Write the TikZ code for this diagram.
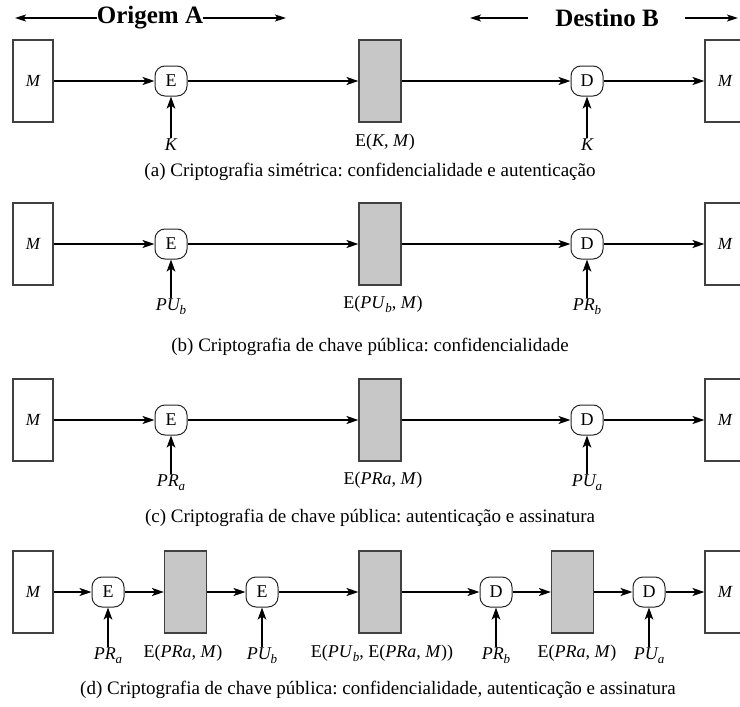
\documentclass[tikz,border=0pt]{standalone}
\usepackage{fontspec}
\setmainfont{Liberation Serif}
\usetikzlibrary{arrows.meta}

% italic subscript, set a little below the baseline
\newcommand{\sbi}[1]{\raisebox{-0.5ex}{\fontsize{13}{14}\selectfont\itshape #1}}

\tikzset{
  msgbox/.style={draw=black!75, line width=1.1pt, minimum width=40pt, minimum height=82pt,
                 inner sep=0pt, font=\fontsize{17}{19}\selectfont\itshape},
  cipher/.style={msgbox, fill=black!22, minimum width=42pt},
  op/.style={draw=black!85, line width=1pt, rounded corners=10pt, minimum width=32pt,
             minimum height=30pt, inner sep=0pt, fill=white, font=\fontsize{18}{20}\selectfont},
  lbl/.style={inner sep=1pt, font=\fontsize{18}{20}\selectfont},
  caption/.style={inner sep=0pt, font=\fontsize{19}{21}\selectfont},
  flow/.style={line width=1.8pt, -{Stealth[length=12pt,width=8pt,inset=3pt]}},
  keyflow/.style={line width=2.6pt, -{Stealth[length=12pt,width=8.5pt,inset=3pt]}},
  span/.style={line width=1.3pt, -{Stealth[length=11pt,width=7pt,inset=2.5pt]}},
  head/.style={inner sep=0pt, font=\fontsize{25}{27}\selectfont\bfseries},
}

\begin{document}
\frenchspacing
\begin{tikzpicture}[x=1pt, y=-1pt]
\useasboundingbox (0,0) rectangle (740,707);

% ---------- header ----------
\node[head] (orig) at (150,18) {Origem A};
\coordinate (origL) at (15,18);
\coordinate (origR) at (286,18);
\draw[span] (orig.west) -- (origL);
\draw[span] (orig.east) -- (origR);

\node[head] (dest) at (607,18) {Destino B};
\coordinate (destLs) at (528,18);
\coordinate (destL) at (470,18);
\coordinate (destRs) at (685,18);
\coordinate (destR) at (738,18);
\draw[span] (destLs) -- (destL);
\draw[span] (destRs) -- (destR);

% ---------- (a) ----------
\node[msgbox] (aM) at (33,81) {M};
\node[op] (aE) at (171,81) {E};
\node[cipher] (aC) at (380,81) {};
\node[op] (aD) at (587,81) {D};
\node[msgbox] (aM2) at (725,81) {M};
\node[lbl] (aK1) at (171,145) {\itshape K};
\node[lbl] (aCl) at (385,142) {E(\textit{K}, \textit{M})};
\node[lbl] (aK2) at (587,145) {\itshape K};
\draw[flow] (aM) -- (aE);
\draw[flow] (aE) -- (aC);
\draw[flow] (aC) -- (aD);
\draw[flow] (aD) -- (aM2);
\draw[keyflow] (aK1.north) -- (aE.south);
\draw[keyflow] (aK2.north) -- (aD.south);
\node[caption] (capa) at (370,172) {(a) Criptografia simétrica: confidencialidade e autenticação};

% ---------- (b) ----------
\node[msgbox] (bM) at (33,244) {M};
\node[op] (bE) at (171,244) {E};
\node[cipher] (bC) at (380,244) {};
\node[op] (bD) at (587,244) {D};
\node[msgbox] (bM2) at (725,244) {M};
\node[lbl] (bK1) at (171,307) {\itshape PU\sbi{b}};
\node[lbl] (bCl) at (383,304) {E(\textit{PU}\sbi{b}, \textit{M})};
\node[lbl] (bK2) at (587,307) {\itshape PR\sbi{b}};
\draw[flow] (bM) -- (bE);
\draw[flow] (bE) -- (bC);
\draw[flow] (bC) -- (bD);
\draw[flow] (bD) -- (bM2);
\draw[keyflow] (bK1.north) -- (bE.south);
\draw[keyflow] (bK2.north) -- (bD.south);
\node[caption] (capb) at (370,347) {(b) Criptografia de chave pública: confidencialidade};

% ---------- (c) ----------
\node[msgbox] (cM) at (33,420) {M};
\node[op] (cE) at (171,420) {E};
\node[cipher] (cC) at (380,420) {};
\node[op] (cD) at (587,420) {D};
\node[msgbox] (cM2) at (725,420) {M};
\node[lbl] (cK1) at (171,483) {\itshape PR\sbi{a}};
\node[lbl] (cCl) at (383,480) {E(\textit{PRa}, \textit{M})};
\node[lbl] (cK2) at (587,483) {\itshape PU\sbi{a}};
\draw[flow] (cM) -- (cE);
\draw[flow] (cE) -- (cC);
\draw[flow] (cC) -- (cD);
\draw[flow] (cD) -- (cM2);
\draw[keyflow] (cK1.north) -- (cE.south);
\draw[keyflow] (cK2.north) -- (cD.south);
\node[caption] (capc) at (370,518) {(c) Criptografia de chave pública: autenticação e assinatura};

% ---------- (d) ----------
\node[msgbox] (dM) at (33,592) {M};
\node[op] (dE1) at (108,592) {E};
\node[cipher] (dC1) at (185.5,592) {};
\node[op] (dE2) at (262,592) {E};
\node[cipher] (dC2) at (380,592) {};
\node[op] (dD1) at (496,592) {D};
\node[cipher] (dC3) at (572.5,592) {};
\node[op] (dD2) at (649,592) {D};
\node[msgbox] (dM2) at (725,592) {M};
\node[lbl] (dK1) at (108,656) {\itshape PR\sbi{a}};
\node[lbl] (dC1l) at (183,653) {E(\textit{PRa}, \textit{M})};
\node[lbl] (dK2) at (262,656) {\itshape PU\sbi{b}};
\node[lbl] (dC2l) at (382,653) {E(\textit{PU}\sbi{b}, E(\textit{PRa}, \textit{M}))};
\node[lbl] (dK3) at (496,656) {\itshape PR\sbi{b}};
\node[lbl] (dC3l) at (577,653) {E(\textit{PRa}, \textit{M})};
\node[lbl] (dK4) at (649,656) {\itshape PU\sbi{a}};
\draw[flow] (dM) -- (dE1);
\draw[flow] (dE1) -- (dC1);
\draw[flow] (dC1) -- (dE2);
\draw[flow] (dE2) -- (dC2);
\draw[flow] (dC2) -- (dD1);
\draw[flow] (dD1) -- (dC3);
\draw[flow] (dC3) -- (dD2);
\draw[flow] (dD2) -- (dM2);
\draw[keyflow] (dK1.north) -- (dE1.south);
\draw[keyflow] (dK2.north) -- (dE2.south);
\draw[keyflow] (dK3.north) -- (dD1.south);
\draw[keyflow] (dK4.north) -- (dD2.south);
\node[caption] (capd) at (378,690) {(d) Criptografia de chave pública: confidencialidade, autenticação e assinatura};
\end{tikzpicture}
\end{document}
